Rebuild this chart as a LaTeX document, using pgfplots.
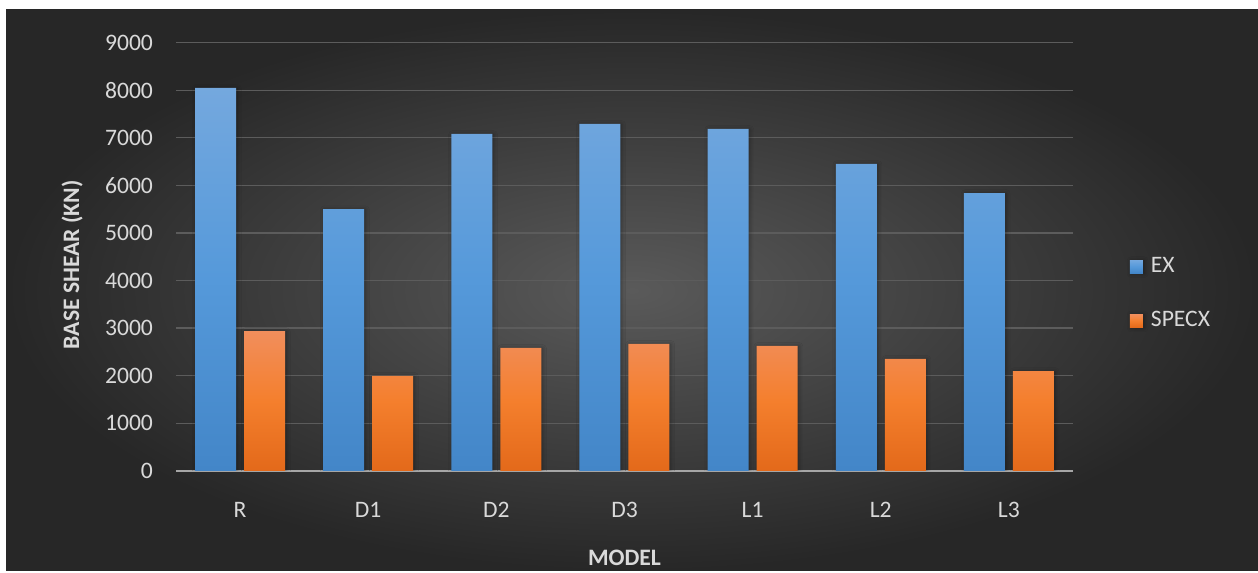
\documentclass[border=0pt]{standalone}
\usepackage{pgfplots}
\pgfplotsset{compat=1.18}
\usepackage{fontspec}
\setmainfont{Carlito}
\usetikzlibrary{shadows.blur}

\definecolor{bgin}{HTML}{5A5A5A}
\definecolor{bgout}{HTML}{272727}
\definecolor{gridc}{HTML}{5C5C5C}
\definecolor{basec}{HTML}{A6A6A6}
\definecolor{labelc}{HTML}{D9D9D9}
\definecolor{extop}{HTML}{74A8DE}
\definecolor{exmid}{HTML}{5599DA}
\definecolor{exbot}{HTML}{4386C8}
\definecolor{extag}{HTML}{5B9BD5}
\definecolor{sptop}{HTML}{F18E5C}
\definecolor{spmid}{HTML}{F47F2D}
\definecolor{spbot}{HTML}{E3691A}
\definecolor{sptag}{HTML}{F4813A}

\newcommand{\chartfont}{\fontsize{11.8}{14}\selectfont}

\begin{document}
\begin{tikzpicture}[x=0.5pt,y=0.5pt]
% page and dark chart area
\fill[white] (0,0) rectangle (1258,571);
\shade[inner color=bgin, outer color=bgout] (6,0) rectangle (1258,561);
\begin{axis}[
  at={(88pt,50pt)}, anchor=south west,
  scale only axis, width=448.5pt, height=214.2pt,
  xmin=-0.5, xmax=6.5, ymin=0, ymax=9000,
  xtick={0,...,6}, xticklabels={R,D1,D2,D3,L1,L2,L3},
  ytick={0,1000,...,9000},
  axis line style={draw=none},
  major tick length=0pt,
  ymajorgrids, grid style={color=gridc, line width=0.7pt},
  extra y ticks={0}, extra y tick labels={},
  extra y tick style={grid style={color=basec, line width=1.3pt}},
  scaled y ticks=false,
  /pgf/number format/assume math mode=true,
  /pgf/number format/1000 sep={},
  tick label style={font=\chartfont, text=labelc},
  yticklabel style={xshift=-8pt},
  xticklabel style={yshift=-12pt},
  xlabel={MODEL}, ylabel={BASE SHEAR (KN)},
  label style={font=\bfseries\chartfont, text=labelc},
  xlabel style={at={(axis description cs:0.5,-0.2031)}, anchor=center},
  ylabel style={at={(axis description cs:-0.1159,0.4809)}, anchor=center},
  legend style={draw=none, fill=none, at={(axis description cs:1.0635,0.4137)},
    anchor=west, inner sep=0pt, outer sep=0pt, font=\chartfont, text=labelc,
    row sep=14pt, /tikz/every odd column/.append style={column sep=2pt}},
  legend cell align=left,
]
\addplot[ybar, bar width=20.5pt, bar shift=-12.25pt, draw=none,
  top color=extop, bottom color=exbot, middle color=exmid,
  blur shadow={shadow xshift=0.6pt, shadow yshift=-0.3pt, shadow opacity=35, shadow blur radius=2pt},
  legend image code/.code={\fill[extag] (0pt,-3.25pt) rectangle (6.5pt,3.25pt);}]
  coordinates {(0,8050) (1,5500) (2,7080) (3,7290) (4,7185) (5,6450) (6,5840)};
\addlegendentry{EX}
\addplot[ybar, bar width=20.5pt, bar shift=12.25pt, draw=none,
  top color=sptop, bottom color=spbot, middle color=spmid,
  blur shadow={shadow xshift=0.6pt, shadow yshift=-0.3pt, shadow opacity=35, shadow blur radius=2pt},
  legend image code/.code={\fill[sptag] (0pt,-3.25pt) rectangle (6.5pt,3.25pt);}]
  coordinates {(0,2940) (1,2000) (2,2585) (3,2670) (4,2630) (5,2355) (6,2100)};
\addlegendentry{SPECX}
\end{axis}
\end{tikzpicture}
\end{document}
